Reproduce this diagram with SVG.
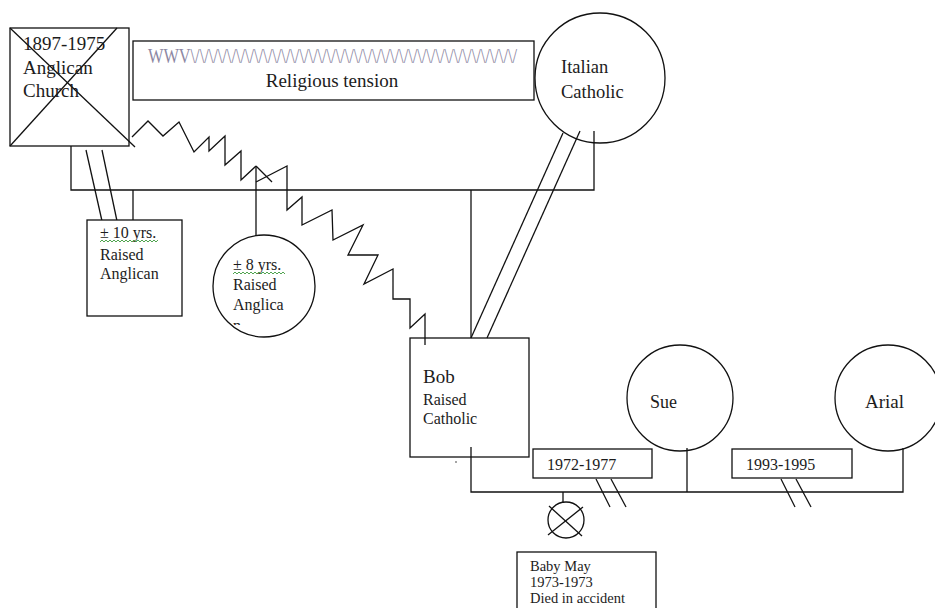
<svg xmlns="http://www.w3.org/2000/svg" width="935" height="608" viewBox="0 0 935 608">
<style>
.s{fill:none;stroke:#111;stroke-width:1.3}
.b{fill:#fff;stroke:#111;stroke-width:1.3}
.t{font-family:"Liberation Serif","Times New Roman",serif;fill:#1c1c1c}
.w{fill:none;stroke:#3c9a3c;stroke-width:0.9}
</style>
<defs>
<clipPath id="cn"><rect x="225" y="300" width="70" height="25"/></clipPath>
</defs>
<rect width="935" height="608" fill="#fff"/>
<g id="connectors">
<polyline class="s" points="71,146 71,190 594,190 594,131"/>
<line class="s" x1="86" y1="150" x2="102" y2="221"/>
<line class="s" x1="102" y1="150" x2="117" y2="221"/>
<line class="s" x1="133" y1="190" x2="133" y2="220"/>
<line class="s" x1="256" y1="166" x2="256" y2="235"/>
<line class="s" x1="471" y1="190" x2="471" y2="338"/>
<line class="s" x1="563" y1="133" x2="471" y2="338"/>
<line class="s" x1="580" y1="131" x2="487" y2="338"/>
<polyline class="s" points="132,137 148,121 163,136 179,122 194,152 209,137 209,151 225,136 225,165 241,151 241,180 256,166"/>
<line class="s" x1="256" y1="166" x2="272" y2="182"/>
<polyline class="s" points="256,182 287,166 287,210 302,197 302,225 332,210 333,240 363,225 348,255 378,255 364,284 393,269 393,299 410,299 410,328 425,314 425,345"/>
<polyline class="s" points="471,447 471,492 903,492 903,448"/>
<line class="s" x1="687" y1="448" x2="687" y2="492"/>
<line class="s" x1="563" y1="492" x2="563" y2="503"/>
<line class="s" x1="596" y1="479" x2="610" y2="507"/>
<line class="s" x1="611" y1="479" x2="626" y2="507"/>
<line class="s" x1="781" y1="479" x2="795" y2="507"/>
<line class="s" x1="796" y1="479" x2="811" y2="507"/>
</g>
<g id="anglican">
<rect class="s" x="10" y="28" width="119" height="118"/>
<line class="s" x1="10" y1="28" x2="135" y2="147"/>
<line class="s" x1="117" y1="28" x2="10" y2="146"/>
<text class="t" font-size="19" x="23" y="50">1897-1975</text>
<text class="t" font-size="19" x="23" y="74">Anglican</text>
<text class="t" font-size="19" x="23" y="97">Church</text>
</g>
<g id="tension">
<rect class="b" x="133" y="41" width="401" height="59"/>
<text class="t" font-size="16" transform="translate(148,63) scale(1,1.25)" x="0" y="0" textLength="369" lengthAdjust="spacingAndGlyphs" style="fill:#8d88a3">WWV\/\/\/\/\/\/\/\/\/\/\/\/\/\/\/\/\/\/\/\/\/\/\/\/\/\/\/\/\/\/\/\/\/\/\/\/</text>
<text class="t" font-size="19" x="332" y="87" text-anchor="middle">Religious tension</text>
</g>
<g id="italian">
<circle class="s" cx="600" cy="78" r="65"/>
<text class="t" font-size="18.5" x="561" y="73">Italian</text>
<text class="t" font-size="18.5" x="561" y="98">Catholic</text>
</g>
<g id="child1">
<rect class="b" x="87" y="220" width="95" height="96"/>
<text class="t" font-size="16" x="100" y="238">± 10 yrs.</text>
<polyline class="w" points="100,242 102,240 104,242 106,240 108,242 110,240 112,242 114,240 116,242 118,240 120,242 122,240 124,242 126,240 128,242 130,240 132,242 134,240 136,242 138,240 140,242 142,240 144,242 146,240 148,242 150,240 152,242 154,240 156,242 158,240"/>
<text class="t" font-size="16" x="100" y="260">Raised</text>
<text class="t" font-size="16" x="100" y="279">Anglican</text>
</g>
<g id="child2">
<circle class="b" cx="264" cy="286" r="51"/>
<text class="t" font-size="16" x="233" y="270">± 8 yrs.</text>
<polyline class="w" points="233,274 235,272 237,274 239,272 241,274 243,272 245,274 247,272 249,274 251,272 253,274 255,272 257,274 259,272 261,274 263,272 265,274 267,272 269,274 271,272 273,274 275,272 277,274 279,272 281,274 283,272 285,274"/>
<text class="t" font-size="16" x="233" y="290">Raised</text>
<text class="t" font-size="16" x="233" y="310">Anglica</text>
<text class="t" font-size="16" x="233" y="331" clip-path="url(#cn)">n</text>
</g>
<g id="bob">
<rect class="s" x="410" y="338" width="119" height="119"/>
<text class="t" font-size="19" x="423" y="383">Bob</text>
<text class="t" font-size="16" x="423" y="405">Raised</text>
<text class="t" font-size="16" x="423" y="424">Catholic</text>
<circle cx="456" cy="462" r="0.8" fill="#333"/>
</g>
<g id="sue">
<circle class="s" cx="680" cy="398" r="53"/>
<text class="t" font-size="18" x="650" y="408">Sue</text>
</g>
<g id="arial">
<circle class="s" cx="888" cy="398" r="53"/>
<text class="t" font-size="19" x="865" y="408">Arial</text>
</g>
<g id="marriage1">
<rect class="b" x="533" y="449" width="119" height="29"/>
<text class="t" font-size="16" x="547" y="470">1972-1977</text>
</g>
<g id="marriage2">
<rect class="b" x="732" y="449" width="120" height="29"/>
<text class="t" font-size="16" x="746" y="470">1993-1995</text>
</g>
<g id="baby">
<circle class="s" cx="566" cy="520" r="18"/>
<line class="s" x1="549" y1="506" x2="582" y2="536"/>
<line class="s" x1="583" y1="507" x2="548" y2="535"/>
<rect class="s" x="517" y="552" width="139" height="70"/>
<text class="t" font-size="14.5" x="530" y="571">Baby May</text>
<text class="t" font-size="14.5" x="530" y="587">1973-1973</text>
<text class="t" font-size="14.5" x="530" y="603">Died in accident</text>
</g>
</svg>
